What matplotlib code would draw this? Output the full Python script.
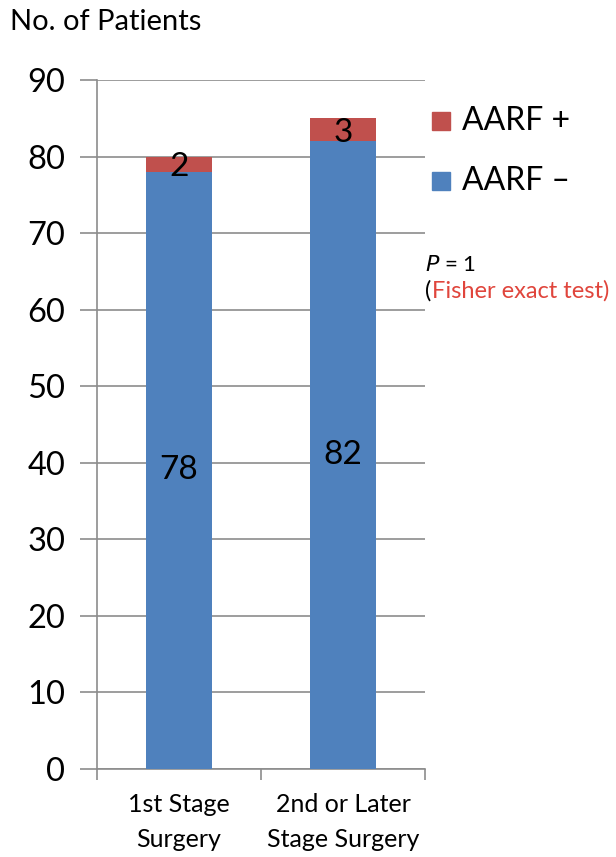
import matplotlib
matplotlib.use("Agg")
import matplotlib.pyplot as plt
from matplotlib.patches import Rectangle

categories = ["1st Stage\nSurgery", "2nd or Later\nStage Surgery"]
aarf_neg = [78, 82]
aarf_pos = [2, 3]
y_ticks = [0, 10, 20, 30, 40, 50, 60, 70, 80, 90]

blue = "#4F81BD"
red = "#C0504D"
axis_grey = "#8C8C8C"

plt.rcParams["font.family"] = ["Lato", "DejaVu Sans"]

fig = plt.figure(figsize=(6.16, 8.57), dpi=100)
ax = fig.add_axes([97 / 616, 1 - 769 / 857, 328 / 616, (769 - 80) / 857])

x = list(range(len(categories)))
width = 0.4
ax.bar(x, aarf_neg, width, color=blue, zorder=3)
ax.bar(x, aarf_pos, width, bottom=aarf_neg, color=red, zorder=3)

for xi, neg, pos in zip(x, aarf_neg, aarf_pos):
    ax.text(xi, neg / 2, str(neg), ha="center", va="center", fontsize=24, zorder=4)
    ax.text(xi, neg + pos / 2 - 0.4, str(pos), ha="center", va="center", fontsize=24, zorder=4)

ax.set_ylim(0, 90)
ax.set_xlim(-0.5, 1.5)
ax.set_yticks(y_ticks)
ax.set_yticklabels([str(t) for t in y_ticks], fontsize=23.5)
ax.yaxis.grid(True, color=axis_grey, linewidth=1.2, zorder=0)
ax.tick_params(axis="y", length=12, width=1.2, color=axis_grey, pad=11)

# Category labels sit between boundary ticks
ax.set_xticks([-0.5, 0.5, 1.5])
ax.set_xticklabels([])
ax.tick_params(axis="x", length=8, width=1.2, color=axis_grey, direction="out")
for xi, label in zip(x, categories):
    ax.text(xi, -3.2, label, ha="center", va="top", fontsize=18, linespacing=1.6)

for side in ["top", "right"]:
    ax.spines[side].set_visible(False)
for side in ["left", "bottom"]:
    ax.spines[side].set_color(axis_grey)
    ax.spines[side].set_linewidth(1.2)

fig.text(10 / 616, 1 - 22 / 857, "No. of Patients", fontsize=21, va="center", ha="left")

# Legend
for ypix, label, color in [(121, "AARF +", red), (181, "AARF \u2013", blue)]:
    fig.patches.append(Rectangle((432 / 616, 1 - (ypix + 9) / 857), 18 / 616, 18 / 857,
                                 transform=fig.transFigure, color=color))
    fig.text(462 / 616, 1 - ypix / 857, label, fontsize=23, va="center", ha="left")

fig.text(425 / 616, 1 - 265 / 857, "$\\it{P}$ = 1", fontsize=16, va="center", ha="left")
fig.text(425 / 616, 1 - 291 / 857, "(", fontsize=17, va="center", ha="left")
fig.text(432 / 616, 1 - 291 / 857, "Fisher exact test)", fontsize=17, va="center", ha="left",
         color="#E0453C")

fig.savefig("out.png", dpi=100)
